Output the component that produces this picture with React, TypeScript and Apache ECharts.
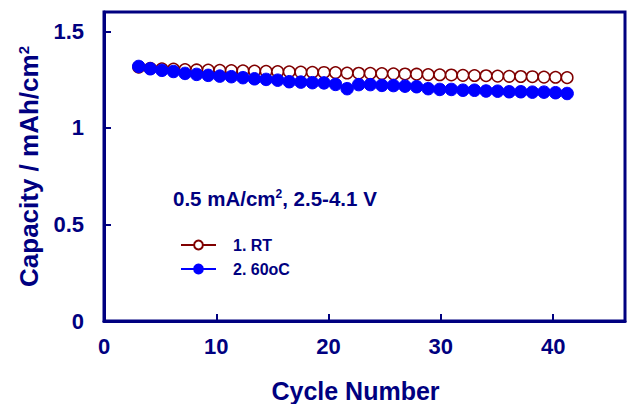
import React, { useEffect, useRef } from "react";
import * as echarts from "echarts";

const cycles = [3,4,5,6,7,8,9,10,11,12,13,14,15,16,17,18,19,20,21,22,23,24,25,26,27,28,29,30,31,32,33,34,35,36,37,38,39,40];
const capacityRT = [1.314,1.308,1.306,1.304,1.302,1.300,1.299,1.298,1.297,1.295,1.294,1.293,1.291,1.290,1.289,1.288,1.287,1.286,1.284,1.283,1.282,1.281,1.280,1.279,1.278,1.276,1.275,1.274,1.272,1.271,1.270,1.268,1.267,1.266,1.265,1.263,1.262,1.260];
const capacity60 = [1.318,1.306,1.298,1.292,1.282,1.277,1.272,1.268,1.265,1.260,1.254,1.251,1.247,1.239,1.237,1.234,1.233,1.225,1.203,1.224,1.224,1.220,1.219,1.216,1.213,1.203,1.199,1.199,1.195,1.195,1.191,1.190,1.187,1.187,1.185,1.185,1.182,1.178];
const seriesNames = ["1. RT", "2. 60oC"];
const xTicks = [0, 10, 20, 30, 40];
const yTicks = [0, 0.5, 1, 1.5];

const NAVY = "#000080";
const FONT = "'Liberation Sans', Arial, sans-serif";

export default function App() {
  const ref = useRef<HTMLDivElement>(null);
  useEffect(() => {
    if (!ref.current) return;
    const chart = echarts.init(ref.current, null, { renderer: "svg" });
    const rt = cycles.map((c, i) => [c, capacityRT[i]]);
    const hot = cycles.map((c, i) => [c, capacity60[i]]);
    chart.setOption({
      animation: false,
      backgroundColor: "#ffffff",
      grid: {
        left: 104,
        right: 4,
        top: 12,
        bottom: 83,
        show: true,
        borderColor: NAVY,
        borderWidth: 3,
        outerBoundsMode: "none",
      },
      legend: {
        orient: "vertical",
        left: 175,
        top: 232,
        itemWidth: 35,
        itemHeight: 11,
        itemGap: 8,
        data: seriesNames,
        textStyle: {
          fontFamily: FONT,
          fontWeight: "bold",
          fontSize: 16,
          color: NAVY,
          padding: [0, 0, 0, 12],
        },
      },
      graphic: [
        {
          type: "text",
          left: 173,
          top: 188,
          style: {
            text: "{m|0.5 mA/cm}{s|2}{m|, 2.5-4.1 V}",
            rich: {
              m: { fontFamily: FONT, fontWeight: "bold", fontSize: 20.5, fill: NAVY, color: NAVY },
              s: { fontFamily: FONT, fontWeight: "bold", fontSize: 12, fill: NAVY, color: NAVY, verticalAlign: "top", padding: [0, 0, 8, 0] },
            },
          },
        },
      ],
      xAxis: [
        {
          type: "value",
          min: xTicks[0],
          max: 46.4,
          interval: 10,
          name: "Cycle Number",
          nameLocation: "middle",
          nameGap: 57,
          nameTextStyle: {
            fontFamily: FONT,
            fontWeight: "bold",
            fontSize: 25,
            color: NAVY,
            padding: [0, 18, 0, 0],
          },
          axisLine: { show: true, lineStyle: { color: NAVY, width: 3 } },
          axisTick: { show: true, inside: true, length: 7, lineStyle: { color: NAVY, width: 2 } },
          axisLabel: {
            margin: 14,
            showMaxLabel: false,
            fontFamily: FONT,
            fontWeight: "bold",
            fontSize: 22,
            color: NAVY,
            formatter: (v: number) => (xTicks.includes(v) ? String(v) : ""),
          },
          splitLine: { show: false },
        },
        {
          type: "value",
          min: 0,
          max: 45,
          show: false,
          gridIndex: 0,
        },
      ],
      yAxis: {
        type: "value",
        min: yTicks[0],
        max: 1.6,
        interval: 0.5,
        name: "{m|Capacity / mAh/cm}{s|2}",
        nameLocation: "middle",
        nameGap: 62,
        nameTextStyle: {
          color: NAVY,
          rich: {
            m: { fontFamily: FONT, fontWeight: "bold", fontSize: 26, color: NAVY },
            s: { fontFamily: FONT, fontWeight: "bold", fontSize: 15, color: NAVY, verticalAlign: "top", padding: [0, 0, 10, 0] },
          },
        },
        axisLine: { show: true, lineStyle: { color: NAVY, width: 3 } },
        axisTick: { show: true, inside: true, length: 7, lineStyle: { color: NAVY, width: 2 } },
        axisLabel: {
          margin: 20,
          showMaxLabel: false,
          fontFamily: FONT,
          fontWeight: "bold",
          fontSize: 22,
          color: NAVY,
          formatter: (v: number) => (yTicks.includes(v) ? String(v) : ""),
        },
        splitLine: { show: false },
      },
      series: [
        {
          name: seriesNames[0],
          type: "line",
          xAxisIndex: 1,
          data: rt,
          symbol: "circle",
          symbolSize: 11.5,
          lineStyle: { color: "#800000", width: 2 },
          itemStyle: { color: "#ffffff", borderColor: "#800000", borderWidth: 1.5 },
        },
        {
          name: seriesNames[1],
          type: "line",
          xAxisIndex: 1,
          data: hot,
          symbol: "circle",
          symbolSize: 12.5,
          lineStyle: { color: "#0000ff", width: 2 },
          itemStyle: { color: "#0000ff", borderColor: "#0000ff", borderWidth: 1 },
        },
      ],
    });
    return () => chart.dispose();
  }, []);
  return (
    <div
      ref={ref}
      style={{ position: "fixed", left: 0, top: 0, width: 629, height: 404 }}
    />
  );
}
